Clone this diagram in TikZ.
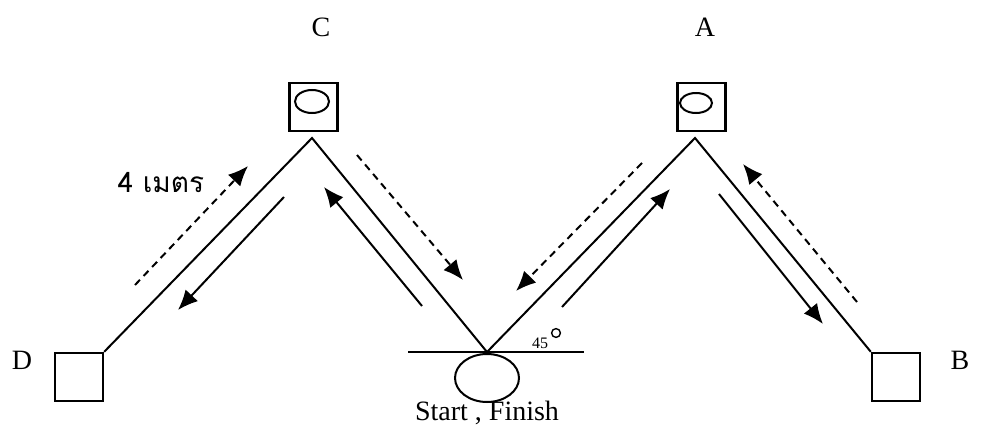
\documentclass[tikz,border=0pt]{standalone}
\usepackage{fontspec}
\setmainfont{Liberation Serif}
\newfontfamily\thaifont[Script=Thai]{Loma}
\usetikzlibrary{arrows.meta, shapes.geometric}

\tikzset{
  leg/.style={line width=1pt},
  walk/.style={line width=1pt, -{Latex[length=10pt,width=8.5pt]}},
  jog/.style={walk, dash pattern=on 3.6pt off 2.6pt},
  cone/.style={draw, line width=1.2pt, minimum size=24pt, inner sep=0pt},
  lbl/.style={font=\fontsize{14}{16}\selectfont},
}

\begin{document}
\begin{tikzpicture}[x=0.5pt, y=-0.5pt]
  \useasboundingbox (0,0) rectangle (984,428);

  % cones at the four corners
  \node[cone] (C) at (313.5,107) {};
  \node[cone] (A) at (701.5,107) {};
  \node[cone] (D) at (79,377) {};
  \node[cone] (B) at (896,377) {};
  \draw[leg] (312,101.5) ellipse (8.5pt and 5.75pt);
  \draw[leg] (696,103) ellipse (8pt and 5pt);

  % start / finish point
  \coordinate (S) at (487,352);
  \coordinate (tipC) at (312,138);
  \coordinate (tipA) at (695,138);
  \draw[leg] (408,352) -- (584,352);
  \node[draw, ellipse, line width=1pt, minimum width=32pt, minimum height=24pt, inner sep=0pt] (home) at (487,378) {};
  \draw[leg] (D.north east) -- (tipC) -- (S) -- (tipA) -- (B.north west);

  % running directions
  \draw[jog] (135,285) -- (248,166);
  \draw[walk] (284,197) -- (178,310);
  \draw[walk] (422,306) -- (324,187);
  \draw[jog] (357,155) -- (463,280);
  \draw[jog] (642,163) -- (516,291);
  \draw[walk] (562,307) -- (670,189);
  \draw[jog] (857,302) -- (743,164);
  \draw[walk] (719,194) -- (823,324);

  % labels
  \node[lbl] (labC) at (321,27) {C};
  \node[lbl] (labA) at (705,27) {A};
  \node[lbl] (labD) at (22,360) {D};
  \node[lbl] (labB) at (960,360) {B};
  \node[lbl] (labS) at (487,413) {Start , Finish};
  \node[font=\fontsize{8}{9}\selectfont] (ang) at (540,343) {45};
  \draw[line width=0.7pt] (556,333) circle (2.2pt);
  \node[font=\thaifont\fontsize{14}{16}\selectfont] (dist) at (161,183) {4 เมตร};
\end{tikzpicture}
\end{document}
